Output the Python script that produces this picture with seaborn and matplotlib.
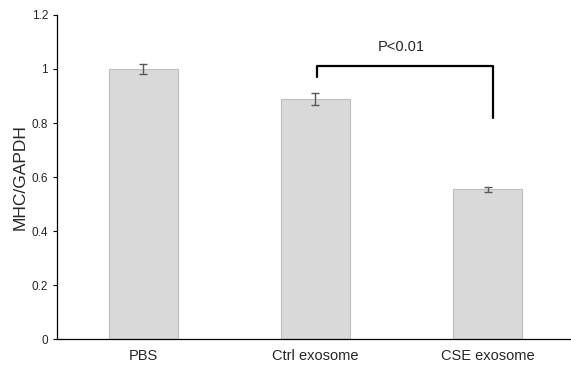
import seaborn as sns
import matplotlib
matplotlib.use('Agg')
import matplotlib.pyplot as plt
import pandas as pd

# values
groups = ['PBS', 'Ctrl exosome', 'CSE exosome']
ratio = [1.0, 0.89, 0.555]
err = [0.02, 0.022, 0.01]

df = pd.DataFrame({'group': groups, 'ratio': ratio})

sns.set_style('white')
plt.rcParams['font.family'] = ['Liberation Sans', 'DejaVu Sans']

fig, ax = plt.subplots(figsize=(5.71, 3.72), dpi=100)
fig.subplots_adjust(left=0.1, right=1.005, top=0.96, bottom=0.088)

sns.barplot(data=df, x='group', y='ratio', color='#d9d9d9', width=0.4,
            edgecolor='#bfbfbf', linewidth=0.8, saturation=1, ax=ax)
ax.errorbar(range(len(groups)), ratio, yerr=err, fmt='none', ecolor='#595959',
            elinewidth=1, capsize=3, capthick=1)

# significance bracket
ax.plot([1.01, 1.01, 2.03, 2.03], [0.97, 1.01, 1.01, 0.82], color='black', lw=1.6)
ax.text(1.5, 1.08, 'P<0.01', ha='center', va='center', fontsize=10.5)

ax.set_ylim(0, 1.2)
ax.set_xlim(-0.5, 2.5)
ax.set_yticks([0, 0.2, 0.4, 0.6, 0.8, 1.0, 1.2])
ax.set_yticklabels(['0', '0.2', '0.4', '0.6', '0.8', '1', '1.2'], fontsize=8.5)
ax.tick_params(axis='x', labelsize=10.5, length=0, pad=7)
ax.tick_params(axis='y', length=3, width=0.8, color='black', direction='out', left=True)
ax.set_xlabel('')
ax.set_ylabel('MHC/GAPDH', fontsize=12.5, labelpad=3)
sns.despine(ax=ax)
for s in ['left', 'bottom']:
    ax.spines[s].set_color('black')
    ax.spines[s].set_linewidth(0.9)

plt.savefig('out.png', dpi=100)
